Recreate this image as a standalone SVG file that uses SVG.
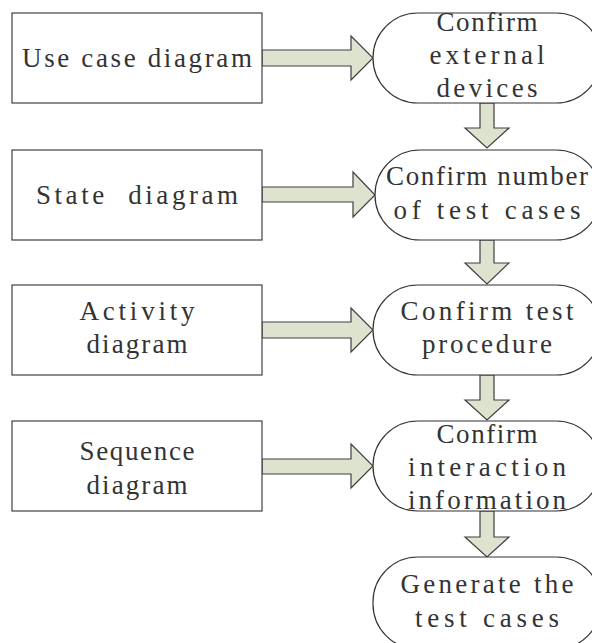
<svg xmlns="http://www.w3.org/2000/svg" width="592" height="643" viewBox="0 0 592 643">
<style>
.box{fill:#fff;stroke:#404040;stroke-width:1.2}
.term{fill:#fff;stroke:#333;stroke-width:1.2}
.arr{fill:#dde3cf;stroke:#404040;stroke-width:1.2;stroke-linejoin:miter}
text{font-family:"Liberation Serif","DejaVu Serif",serif;font-size:27px;fill:#333;text-anchor:middle}
</style>
<rect width="592" height="643" fill="#fff"/>
<g id="connectors">
<path class="arr" d="M262,50 H351 V36 L373,58 L351,80 V66 H262 Z"/>
<path class="arr" d="M262,187 H353 V172 L375,195 L353,217 V202 H262 Z"/>
<path class="arr" d="M262,322 H351 V308 L373,330 L351,352 V338 H262 Z"/>
<path class="arr" d="M262,459 H351 V444 L373,466 L351,488 V474 H262 Z"/>
<path class="arr" d="M480,103 V128 H465 L487,148 L509,128 H494 V103 Z"/>
<path class="arr" d="M480,240 V263 H465 L487,284 L509,263 H494 V240 Z"/>
<path class="arr" d="M480,375 V400 H465 L487,420 L509,400 H494 V375 Z"/>
<path class="arr" d="M480,511 V537 H465 L487,557 L509,537 H494 V511 Z"/>
</g>
<g id="usecase"><rect class="box" x="12" y="13" width="250" height="90"/><text x="137" y="67" textLength="230" lengthAdjust="spacing">Use case diagram</text></g>
<g id="state"><rect class="box" x="12" y="150" width="250" height="90"/><text x="137" y="204" textLength="202" lengthAdjust="spacing" xml:space="preserve">State  diagram</text></g>
<g id="activity"><rect class="box" x="12" y="285" width="250" height="90"/><text x="137" y="320" textLength="115" lengthAdjust="spacing">Activity</text><text x="137" y="353" textLength="101" lengthAdjust="spacing">diagram</text></g>
<g id="sequence"><rect class="box" x="12" y="421" width="250" height="90"/><text x="137" y="460" textLength="115" lengthAdjust="spacing">Sequence</text><text x="137" y="494" textLength="101" lengthAdjust="spacing">diagram</text></g>
<g id="external"><rect class="term" x="373" y="13" width="228" height="90" rx="45" ry="45"/><text x="487" y="31" textLength="101" lengthAdjust="spacing">Confirm</text><text x="487" y="64" textLength="115" lengthAdjust="spacing">external</text><text x="487" y="97" textLength="101" lengthAdjust="spacing">devices</text></g>
<g id="number"><rect class="term" x="375" y="150" width="226" height="90" rx="45" ry="45"/><text x="487" y="185" textLength="202" lengthAdjust="spacing">Confirm number</text><text x="487" y="219" textLength="187" lengthAdjust="spacing">of test cases</text></g>
<g id="procedure"><rect class="term" x="373" y="285" width="228" height="90" rx="45" ry="45"/><text x="487" y="320" textLength="173" lengthAdjust="spacing">Confirm test</text><text x="487" y="353" textLength="130" lengthAdjust="spacing">procedure</text></g>
<g id="interaction"><rect class="term" x="373" y="421" width="228" height="90" rx="45" ry="45"/><text x="487" y="443" textLength="101" lengthAdjust="spacing">Confirm</text><text x="487" y="476" textLength="158" lengthAdjust="spacing">interaction</text><text x="487" y="509" textLength="158" lengthAdjust="spacing">information</text></g>
<g id="generate"><rect class="term" x="373" y="557" width="228" height="92" rx="45" ry="45"/><text x="487" y="593" textLength="173" lengthAdjust="spacing">Generate the</text><text x="487" y="627" textLength="144" lengthAdjust="spacing">test cases</text></g>
</svg>
